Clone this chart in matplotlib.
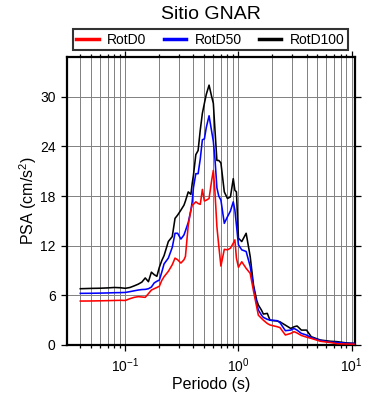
import matplotlib
matplotlib.use("Agg")
import matplotlib.pyplot as plt
from matplotlib.ticker import LogLocator, NullFormatter

plt.rcParams['font.family'] = ['Liberation Sans', 'DejaVu Sans']
plt.rcParams['mathtext.fontset'] = 'custom'
plt.rcParams['mathtext.rm'] = 'Liberation Sans'
plt.rcParams['mathtext.it'] = 'Liberation Sans'

periods = [0.04, 0.05, 0.06, 0.07, 0.08, 0.09, 0.10, 0.11, 0.12, 0.13, 0.14, 0.15,
           0.16, 0.17, 0.18, 0.19, 0.20, 0.21, 0.22, 0.24, 0.26, 0.275, 0.29, 0.31,
           0.33, 0.34, 0.36, 0.38, 0.39, 0.40, 0.42, 0.44, 0.46, 0.48, 0.50, 0.52,
           0.55, 0.58, 0.60, 0.62, 0.645, 0.67, 0.70, 0.75, 0.80, 0.85, 0.90, 0.93,
           0.96, 1.00, 1.07, 1.17, 1.27, 1.36, 1.45, 1.50, 1.60, 1.66, 1.80, 1.90,
           2.20, 2.33, 2.60, 2.90, 3.10, 3.30, 3.60, 4.00, 4.40, 5.30, 6.50, 7.50,
           9.00, 10.5]

rotd100 = [6.80, 6.84, 6.86, 6.90, 6.95, 6.92, 6.85, 6.95, 7.15, 7.35, 7.60, 8.10,
           7.65, 8.80, 8.50, 8.30, 9.40, 10.2, 10.8, 12.5, 13.1, 15.3, 15.7, 16.3,
           16.9, 17.4, 18.5, 18.2, 19.5, 20.5, 23.0, 23.5, 26.0, 28.0, 29.2, 30.3,
           31.4, 30.0, 29.2, 26.0, 22.3, 22.3, 22.0, 18.5, 17.7, 17.9, 20.1, 18.7,
           18.5, 12.9, 12.5, 13.5, 10.7, 7.2, 5.4, 4.83, 4.2, 3.74, 3.82, 3.0,
           2.9, 2.8, 2.4, 2.0, 2.2, 2.3, 1.8, 1.8, 1.0, 0.6, 0.45, 0.4,
           0.25, 0.2]

rotd50 = [6.24, 6.25, 6.27, 6.29, 6.32, 6.33, 6.35, 6.45, 6.55, 6.64, 6.70, 6.72,
          6.80, 7.00, 7.50, 7.70, 7.85, 8.80, 9.80, 10.5, 11.8, 13.5, 13.5, 12.8,
          13.3, 13.8, 14.8, 16.3, 17.3, 19.0, 20.7, 20.7, 22.5, 24.8, 24.9, 26.3,
          27.7, 25.8, 24.6, 22.5, 19.0, 18.0, 17.5, 14.7, 15.5, 16.2, 17.3, 16.3,
          14.5, 12.1, 11.5, 11.3, 9.5, 7.0, 5.0, 4.23, 3.6, 3.34, 3.1, 3.0,
          2.94, 2.7, 1.73, 1.8, 2.0, 1.8, 1.4, 1.2, 0.9, 0.55, 0.35, 0.3,
          0.2, 0.18]

rotd0 = [5.31, 5.32, 5.34, 5.36, 5.38, 5.40, 5.38, 5.60, 5.76, 5.84, 5.80, 5.76,
         6.20, 6.64, 6.80, 6.95, 7.10, 7.80, 8.25, 8.90, 9.70, 10.5, 10.3, 9.9,
         10.3, 10.7, 14.5, 16.3, 16.9, 17.0, 17.3, 17.1, 17.0, 18.8, 17.4, 17.5,
         17.7, 19.9, 21.1, 18.5, 14.3, 12.0, 9.54, 11.56, 11.5, 11.7, 12.3, 12.7,
         10.5, 9.4, 10.06, 9.26, 8.66, 6.5, 4.6, 3.6, 3.22, 3.0, 2.6, 2.42,
         2.21, 2.1, 1.21, 1.4, 1.61, 1.45, 1.15, 0.95, 0.8, 0.45, 0.3, 0.15,
         0.12, 0.1]

series_names = ['RotD0', 'RotD50', 'RotD100']
series_colors = ['#ff0000', '#0000ff', '#000000']
y_ticks = [0, 6, 12, 18, 24, 30]

fig = plt.figure(figsize=(3.9, 4.0), dpi=100)
ax = fig.add_axes([0.1726, 0.1375, 0.7385, 0.72])

handles = {}
for name, vals, col in [('RotD100', rotd100, series_colors[2]),
                        ('RotD50', rotd50, series_colors[1]),
                        ('RotD0', rotd0, series_colors[0])]:
    h, = ax.plot(periods, vals, color=col, lw=1.15, zorder=3)
    handles[name] = h

ax.set_xscale('log')
ax.set_xlim(0.0307, 10.8)
ax.set_ylim(0, 34.8)
ax.set_yticks(y_ticks)
ax.xaxis.set_major_locator(LogLocator(base=10, numticks=10))
ax.xaxis.set_minor_locator(LogLocator(base=10, subs=range(2, 10), numticks=20))
ax.xaxis.set_minor_formatter(NullFormatter())

ax.grid(True, which='major', axis='both', color='#808080', lw=0.7, zorder=1)
ax.grid(True, which='minor', axis='x', color='#808080', lw=0.7, zorder=1)

for sp in ax.spines.values():
    sp.set_linewidth(1.6)

ax.tick_params(which='both', direction='out', top=True, right=True,
               width=0.9, labelsize=10)
ax.tick_params(which='major', length=4.5)
ax.tick_params(which='minor', length=2.5)
ax.tick_params(axis='x', pad=4)
ax.tick_params(axis='y', pad=4)
ax.tick_params(axis='y', which='minor', left=False, right=False)

ax.set_xlabel('Periodo (s)', fontsize=11.5, labelpad=1)
ax.set_ylabel('PSA (cm/s$^2$)', fontsize=11.5)
ax.yaxis.set_label_coords(-0.098, 0.5)

fig.suptitle('Sitio GNAR', x=0.54, y=0.985, fontsize=14)

leg = fig.legend([handles[n] for n in series_names], series_names, ncol=3,
                 loc='lower left', mode='expand',
                 bbox_to_anchor=(73 / 390, 1 - 50 / 400, 275 / 390, 22 / 400),
                 fontsize=10, frameon=True, fancybox=False, edgecolor='black',
                 handlelength=1.6, handletextpad=0.6, columnspacing=1.0,
                 borderpad=0.25, borderaxespad=0.0)
leg.get_frame().set_linewidth(1.5)
for lh in leg.get_lines():
    lh.set_linewidth(2.5)

fig.savefig('out.png', dpi=100)
